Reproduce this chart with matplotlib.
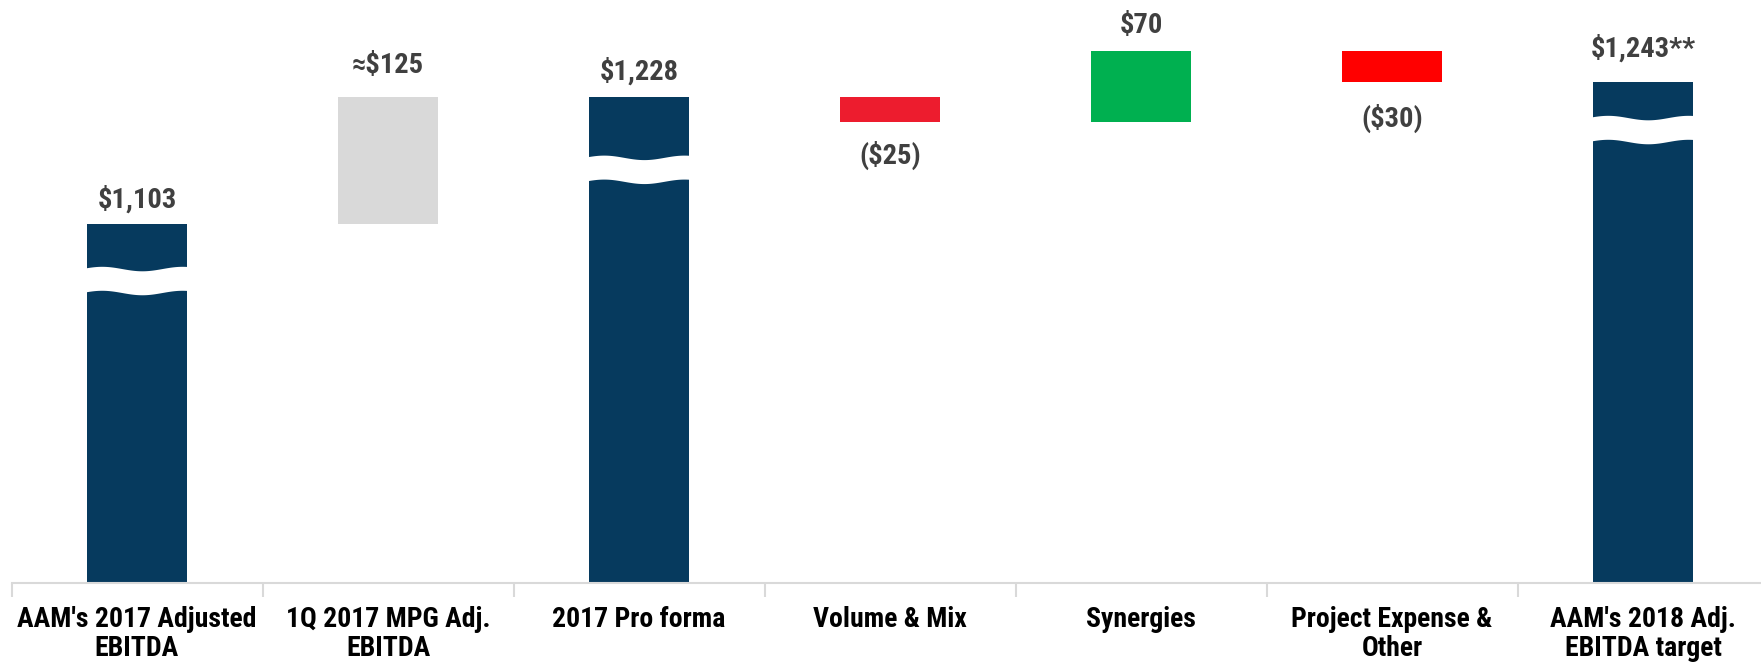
import numpy as np
import matplotlib
matplotlib.use("Agg")
import matplotlib.pyplot as plt

# data
categories = ["AAM's 2017 Adjusted\nEBITDA", "1Q 2017 MPG Adj.\nEBITDA", "2017 Pro forma",
              "Volume & Mix", "Synergies", "Project Expense &\nOther",
              "AAM's 2018 Adj.\nEBITDA target"]
kinds = ["total", "delta", "total", "delta", "delta", "delta", "total"]
values = [1103, 125, 1228, -25, 70, -30, 1243]
value_labels = ["$1,103", "\u2248$125", "$1,228", "($25)", "$70", "($30)", "$1,243**"]
# where the axis is "broken" on the total bars (value at middle of the white wave)
break_at = [1048, None, 1157, None, None, None, 1196]

# style
AXIS_FLOOR = 752
NAVY = "#063A5E"
colors = [NAVY, "#D9D9D9", NAVY, "#ED1C2E", "#00B050", "#FF0000", NAVY]
label_offsets = [25, 31, 25, -33, 26, -37, 33]   # pixels from bar end

plt.rcParams['font.family'] = ['Roboto Condensed', 'DejaVu Sans']

fig = plt.figure(figsize=(17.61, 6.63), dpi=100)
ax = fig.add_axes([11.5 / 1761, 80.5 / 663, 1757 / 1761, 582.5 / 663])

x = np.arange(len(categories))
bottoms, tops = [], []
running = 0
for k, v in zip(kinds, values):
    if k == "total":
        running = v
        bottoms.append(AXIS_FLOOR)
        tops.append(v)
    else:
        bottoms.append(running)
        running += v
        tops.append(running)

heights = [t - b for t, b in zip(tops, bottoms)]
ax.bar(x, heights, bottom=bottoms, width=0.40, color=colors, zorder=2)

# wavy white breaks
gap = 23.5
amp = 2.2
for i, b in enumerate(break_at):
    if b is None:
        continue
    xs = np.linspace(x[i] - 0.21, x[i] + 0.21, 200)
    t = (xs - (x[i] - 0.2)) / 0.4
    wave = amp * np.sin(2 * np.pi * 1.25 * t + 0.4)
    ax.fill_between(xs, b - gap / 2 + wave, b + gap / 2 + wave, color="white", lw=0, zorder=3)

# value labels
for i, lab in enumerate(value_labels):
    off = label_offsets[i]
    yref = max(tops[i], bottoms[i]) if off > 0 else min(tops[i], bottoms[i])
    ax.annotate(lab, (x[i], yref), xytext=(0, off), textcoords="offset pixels",
                ha="center", va="center", fontsize=20.5, fontweight="bold",
                color="#404040", zorder=4)

ax.set_xlim(-0.5, 6.5)
ax.set_ylim(AXIS_FLOOR, 1323)
ax.set_yticks([])
for s in ["left", "right", "top"]:
    ax.spines[s].set_visible(False)
ax.spines["bottom"].set_color("#D9D9D9")
ax.spines["bottom"].set_linewidth(1.5)

ax.set_xticks(x)
ax.set_xticklabels(categories, fontsize=20, fontweight="bold", color="black",
                   linespacing=1.1, va="top")
ax.tick_params(axis="x", which="major", length=0, pad=17)
ax.set_xticks(np.arange(-0.5, 7, 1), minor=True)
ax.tick_params(axis="x", which="minor", length=10, width=1.5, color="#D9D9D9")

fig.savefig("out.png", dpi=100)
